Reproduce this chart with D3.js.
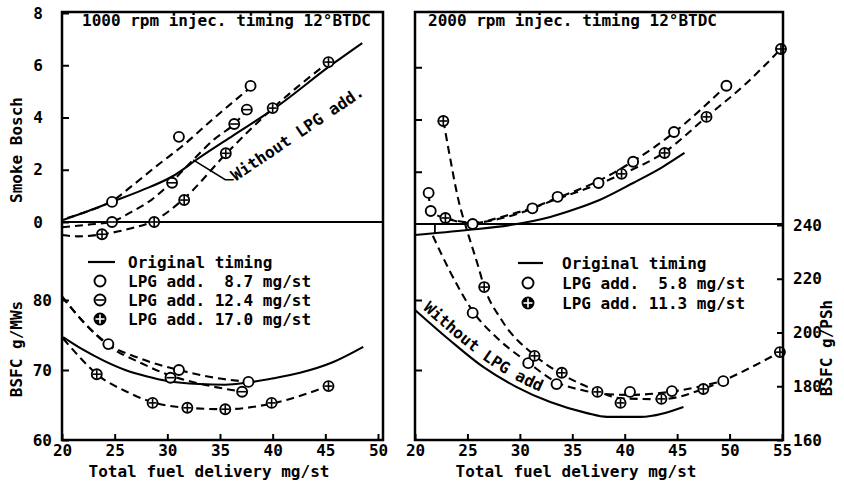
<!DOCTYPE html>
<html>
<head>
<meta charset="utf-8">
<script src="https://cdn.jsdelivr.net/npm/d3@7"></script>
<style>
  body { margin: 0; background: #fff; }
  svg { display: block; font-family: "DejaVu Sans Mono", "Liberation Mono", monospace; font-weight: bold; }
  text { white-space: pre; }
</style>
</head>
<body>
<svg id="chart" width="844" height="487"></svg>
<script>
// ---- tick values ----
const xTicksLeft = [20, 25, 30, 35, 40, 45, 50];
const xTicksRight = [20, 25, 30, 35, 40, 45, 50, 55];
const smokeTicks = [0, 2, 4, 6, 8];
const bsfcTicksLeft = [60, 70, 80];
const bsfcTicksRight = [160, 180, 200, 220, 240];

// ---- 1000 rpm, smoke (Bosch) ----
const smoke1000Orig = [[20.1,0.08],[22.5,0.42],[24.75,0.77],[27.5,1.2],[30.5,1.75],[33,2.45],[36.2,3.3],[40,4.3],[45.7,6.05],[48.5,6.85]];
const smoke1000Lpg87Fit = [[20.5,0.15],[22.7,0.45],[24.75,0.8],[26.7,1.4],[29,2.15],[31.4,2.9],[34.5,4.0],[37.9,5.15]];
const smoke1000Lpg87Pts = [[24.75,0.77],[31.1,3.26],[37.9,5.21]];
const smoke1000Lpg124Fit = [[20,-0.2],[22.5,-0.1],[24.75,0.02],[26.65,0.4],[28.5,0.85],[30.45,1.55],[32.5,2.4],[34.4,3.15],[36.35,3.75],[37.6,4.3]];
const smoke1000Lpg124Pts = [[24.75,0.0],[30.45,1.5],[36.35,3.75],[37.55,4.3]];
const smoke1000Lpg170Fit = [[20,-0.5],[21.5,-0.55],[23.8,-0.47],[26.5,-0.25],[28.75,0.05],[31.6,0.9],[35.55,2.6],[40,4.35],[45.3,6.12]];
const smoke1000Lpg170Pts = [[23.8,-0.47],[28.75,0.0],[31.6,0.84],[35.55,2.63],[40.0,4.36],[45.3,6.12]];

// ---- 1000 rpm, BSFC g/MWs ----
const bsfc1000Orig = [[20.1,74.7],[22,72.9],[24,71.3],[26,70.0],[28,69.1],[30.1,68.4],[33,68.0],[35.5,67.9],[37.6,68.2],[40,68.8],[42.6,69.6],[45.7,71.1],[48.6,73.3]];
const bsfc1000Lpg87Fit = [[20,80.5],[22.2,76.6],[24.4,73.7],[27.5,71.6],[31.1,70.0],[34.5,68.9],[37.7,68.3]];
const bsfc1000Lpg87Pts = [[24.4,73.7],[31.1,70.0],[37.7,68.3]];
const bsfc1000Lpg124Fit = [[20,80.5],[22.2,76.6],[24.4,73.5],[27.5,71.0],[30.3,69.2],[33.5,67.9],[37.1,66.9]];
const bsfc1000Lpg124Pts = [[30.3,68.9],[37.1,66.9]];
const bsfc1000Lpg170Fit = [[20.1,74.5],[21.7,71.8],[23.3,69.4],[26,67.0],[28.6,65.4],[31.9,64.6],[35.5,64.4],[39.9,65.2],[45.3,67.7]];
const bsfc1000Lpg170Pts = [[23.3,69.4],[28.6,65.3],[31.9,64.6],[35.5,64.4],[39.9,65.3],[45.3,67.7]];

// ---- 2000 rpm, smoke (Bosch) ----
const smoke2000Orig = [[20,-0.42],[25,-0.23],[29.1,-0.04],[32.9,0.27],[35.5,0.6],[37.6,0.92],[40.8,1.57],[43.6,2.18],[45.7,2.72]];
const smoke2000Lpg58Fit = [[21.3,1.19],[21.5,0.5],[23.5,0.15],[25.5,0.03],[28.5,0.3],[31.2,0.62],[33.6,1.0],[37.5,1.65],[40.8,2.4],[44.7,3.5],[49.7,5.3]];
const smoke2000Lpg58Pts = [[21.3,1.19],[21.5,0.5],[25.5,0.0],[31.2,0.6],[33.6,1.04],[37.5,1.57],[40.8,2.38],[44.7,3.52],[49.7,5.29]];
const smoke2000Lpg113Fit = [[22.9,0.23],[25.5,0.05],[29,0.3],[33.5,0.95],[37,1.45],[39.7,1.9],[43.8,2.75],[47.8,4.1],[51.5,5.35],[54.9,6.7]];
const smoke2000Lpg113Pts = [[22.9,0.23],[39.7,1.92],[43.8,2.72],[47.8,4.1],[54.9,6.7]];

// ---- 2000 rpm, BSFC g/PSh ----
const bsfc2000Orig = [[20,208.4],[23.3,197.2],[26.5,187.2],[29.7,179.7],[32.9,174.1],[36.4,170.0],[38.3,168.6],[41.5,168.6],[45.6,172.3]];
const bsfc2000Lpg58Fit = [[21.7,236],[23.3,223],[25.5,208],[28.1,197],[30.8,188.8],[33.5,181.5],[36,178.5],[38.5,177],[40.5,176.8],[44.5,178],[49.4,182]];
const bsfc2000Lpg58Pts = [[25.5,207.3],[30.8,188.6],[33.5,180.8],[40.5,177.9],[44.5,178.2],[49.4,181.9]];
const bsfc2000Lpg113Fit = [[22.7,279],[23.3,266],[24.1,250],[25,237.5],[26,225],[26.6,217],[28.2,205],[31.4,191.5],[34,184.5],[37.4,178.3],[39.6,175.5],[43.5,175.2],[47.5,179],[51,185],[54.8,192.7]];
const bsfc2000Lpg113Pts = [[22.7,278.7],[26.6,216.9],[31.4,191.3],[34.0,185.0],[37.4,177.9],[39.6,173.8],[43.5,175.3],[47.5,179.0],[54.8,192.7]];

// ---- legend labels ----
const legendLeft = [["line", "Original timing"], ["open", "LPG add.  8.7 mg/st"], ["minus", "LPG add. 12.4 mg/st"], ["plusFilled", "LPG add. 17.0 mg/st"]];
const legendRight = [["line", "Original timing"], ["open", "LPG add.  5.8 mg/st"], ["plusFilled", "LPG add. 11.3 mg/st"]];

const svg = d3.select("#chart");
svg.append("rect").attr("width", 844).attr("height", 487).attr("fill", "#fff");

const frameTop = 12, frameBottom = 440;
const FS = 16;

// scales
const xL = d3.scaleLinear([20, 50], [62, 378]);
const xR = d3.scaleLinear([20, 55], [415, 782]);
const smokeL = d3.scaleLinear([0, 8], [222, 13]);
const smokeR = d3.scaleLinear([0, 8], [224, 15]);
const bsfcL = d3.scaleLinear([60, 80], [440, 300]);
const bsfcR = d3.scaleLinear([160, 240], [440, 225]);

function symbol(g, type, cx, cy, r) {
  const s = g.append("g").attr("transform", `translate(${cx},${cy})`);
  const filled = type === "plusFilled";
  s.append("circle").attr("r", r)
    .attr("fill", filled ? "#000" : "#fff")
    .attr("stroke", "#000").attr("stroke-width", 1.9);
  const c = filled ? "#fff" : "#000";
  if (type === "minus" || type === "plus" || type === "plusFilled") {
    s.append("line").attr("x1", -r + 1).attr("x2", r - 1).attr("stroke", c).attr("stroke-width", 1.6);
  }
  if (type === "plus" || type === "plusFilled") {
    s.append("line").attr("y1", -r + 1).attr("y2", r - 1).attr("stroke", c).attr("stroke-width", 1.6);
  }
}

function curve(g, xs, ys, data, dashed) {
  const line = d3.line().x(d => xs(d[0])).y(d => ys(d[1])).curve(d3.curveMonotoneX);
  g.append("path").attr("d", line(data))
    .attr("fill", "none").attr("stroke", "#000").attr("stroke-width", 2.1)
    .attr("stroke-dasharray", dashed ? "8,5" : null);
}

function points(g, xs, ys, data, type) {
  data.forEach(d => symbol(g, type, xs(d[0]), ys(d[1]), 5));
}

function styleAxis(g) {
  g.select(".domain").remove();
  g.attr("font-family", null).attr("font-size", FS);
  g.selectAll(".tick line").attr("stroke-width", 2);
}

// ================= LEFT PANEL (1000 rpm) =================
const gl = svg.append("g");

// divider at smoke 0
gl.append("line").attr("x1", 62).attr("x2", 383).attr("y1", smokeL(0)).attr("y2", smokeL(0))
  .attr("stroke", "#000").attr("stroke-width", 2);

curve(gl, xL, smokeL, smoke1000Orig, false);
curve(gl, xL, smokeL, smoke1000Lpg87Fit, true);
curve(gl, xL, smokeL, smoke1000Lpg124Fit, true);
curve(gl, xL, smokeL, smoke1000Lpg170Fit, true);
curve(gl, xL, bsfcL, bsfc1000Orig, false);
curve(gl, xL, bsfcL, bsfc1000Lpg87Fit, true);
curve(gl, xL, bsfcL, bsfc1000Lpg124Fit, true);
curve(gl, xL, bsfcL, bsfc1000Lpg170Fit, true);

points(gl, xL, smokeL, smoke1000Lpg87Pts, "open");
points(gl, xL, smokeL, smoke1000Lpg124Pts, "minus");
points(gl, xL, smokeL, smoke1000Lpg170Pts, "plus");
points(gl, xL, bsfcL, bsfc1000Lpg87Pts, "open");
points(gl, xL, bsfcL, bsfc1000Lpg124Pts, "minus");
points(gl, xL, bsfcL, bsfc1000Lpg170Pts, "plus");

// leader + label "Without LPG add."
const leader = [[32.45, 2.38], [35.5, 1.62], [36.3, 1.62]];
gl.append("path")
  .attr("d", d3.line().x(d => xL(d[0])).y(d => smokeL(d[1]))(leader))
  .attr("fill", "none").attr("stroke", "#000").attr("stroke-width", 1.6);
gl.append("text")
  .attr("transform", `translate(${xL(36.5)},${smokeL(1.55)}) rotate(-34)`)
  .attr("font-size", FS).attr("textLength", 156).attr("lengthAdjust", "spacingAndGlyphs")
  .text("Without LPG add.");

// axes
gl.append("g").attr("transform", "translate(62,0)")
  .call(d3.axisLeft(smokeL).tickValues(smokeTicks).tickSize(-7).tickPadding(19).tickFormat(d3.format("d")))
  .call(styleAxis);
gl.append("g").attr("transform", "translate(62,0)")
  .call(d3.axisLeft(bsfcL).tickValues(bsfcTicksLeft).tickSize(-7).tickPadding(10).tickFormat(d3.format("d")))
  .call(styleAxis);
gl.append("g").attr("transform", `translate(0,${frameBottom})`)
  .call(d3.axisBottom(xL).tickValues(xTicksLeft).tickSize(-6).tickPadding(5).tickFormat(d3.format("d")))
  .call(styleAxis);

gl.append("rect").attr("x", 62).attr("y", frameTop).attr("width", 383 - 62).attr("height", frameBottom - frameTop)
  .attr("fill", "none").attr("stroke", "#000").attr("stroke-width", 2.5);

gl.append("text").attr("x", 82).attr("y", 26).attr("font-size", FS).text("1000 rpm injec. timing 12°BTDC");

// legend
legendLeft.forEach((row, i) => {
  const cy = 262 + i * 19;
  if (row[0] === "line") {
    gl.append("line").attr("x1", 88).attr("x2", 115).attr("y1", cy).attr("y2", cy)
      .attr("stroke", "#000").attr("stroke-width", 2.2);
  } else {
    symbol(gl, row[0], 100, cy, 5.5);
  }
  gl.append("text").attr("x", 128).attr("y", cy).attr("dy", "0.36em").attr("font-size", FS).text(row[1]);
});

// axis titles
gl.append("text").attr("transform", "translate(22,150) rotate(-90)").attr("text-anchor", "middle")
  .attr("font-size", FS).text("Smoke Bosch");
gl.append("text").attr("transform", "translate(22,349) rotate(-90)").attr("text-anchor", "middle")
  .attr("font-size", FS).text("BSFC g/MWs");
gl.append("text").attr("x", 209).attr("y", 477).attr("text-anchor", "middle")
  .attr("font-size", FS).text("Total fuel delivery mg/st");

// ================= RIGHT PANEL (2000 rpm) =================
const gr = svg.append("g");

gr.append("line").attr("x1", 415).attr("x2", 783).attr("y1", smokeR(0)).attr("y2", smokeR(0))
  .attr("stroke", "#000").attr("stroke-width", 2);

curve(gr, xR, smokeR, smoke2000Orig, false);
curve(gr, xR, smokeR, smoke2000Lpg58Fit, true);
curve(gr, xR, smokeR, smoke2000Lpg113Fit, true);
curve(gr, xR, bsfcR, bsfc2000Orig, false);
curve(gr, xR, bsfcR, bsfc2000Lpg58Fit, true);
curve(gr, xR, bsfcR, bsfc2000Lpg113Fit, true);

// small bracket near the start of the original smoke curve
const bracket = [[21.9, 0], [21.9, -0.36]];
gr.append("path")
  .attr("d", d3.line().x(d => xR(d[0])).y(d => smokeR(d[1]))(bracket))
  .attr("fill", "none").attr("stroke", "#000").attr("stroke-width", 1.8);

points(gr, xR, smokeR, smoke2000Lpg58Pts, "open");
points(gr, xR, smokeR, smoke2000Lpg113Pts, "plus");
points(gr, xR, bsfcR, bsfc2000Lpg58Pts, "open");
points(gr, xR, bsfcR, bsfc2000Lpg113Pts, "plus");

// "Without LPG add" following the solid BSFC curve
const labelPath = d3.line().x(d => xR(d[0]) + 3).y(d => bsfcR(d[1]) - 5).curve(d3.curveMonotoneX);
gr.append("path").attr("id", "noLpgPath").attr("d", labelPath(bsfc2000Orig)).attr("fill", "none");
gr.append("text").attr("font-size", FS)
  .append("textPath").attr("href", "#noLpgPath").attr("startOffset", 6)
  .text("Without LPG add");

// axes
gr.append("g").attr("transform", "translate(415,0)")
  .call(d3.axisLeft(smokeR).tickValues([2, 4, 6]).tickSize(-7).tickFormat(""))
  .call(styleAxis);
gr.append("g").attr("transform", "translate(415,0)")
  .call(d3.axisLeft(bsfcL).tickValues([70, 80]).tickSize(-7).tickFormat(""))
  .call(styleAxis);
gr.append("g").attr("transform", "translate(783,0)")
  .call(d3.axisRight(bsfcR).tickValues(bsfcTicksRight).tickSize(-6).tickPadding(10).tickFormat(d3.format("d")))
  .call(styleAxis);
gr.append("g").attr("transform", `translate(0,${frameBottom})`)
  .call(d3.axisBottom(xR).tickValues(xTicksRight).tickSize(-6).tickPadding(5).tickFormat(d3.format("d")))
  .call(styleAxis);

gr.append("rect").attr("x", 415).attr("y", frameTop).attr("width", 783 - 415).attr("height", frameBottom - frameTop)
  .attr("fill", "none").attr("stroke", "#000").attr("stroke-width", 2.5);

gr.append("text").attr("x", 428).attr("y", 26).attr("font-size", FS).text("2000 rpm injec. timing 12°BTDC");

legendRight.forEach((row, i) => {
  const cy = 263 + i * 20;
  if (row[0] === "line") {
    gr.append("line").attr("x1", 518).attr("x2", 543).attr("y1", cy).attr("y2", cy)
      .attr("stroke", "#000").attr("stroke-width", 2.2);
  } else {
    symbol(gr, row[0], 528, cy, 5.5);
  }
  gr.append("text").attr("x", 562).attr("y", cy).attr("dy", "0.36em").attr("font-size", FS).text(row[1]);
});

gr.append("text").attr("transform", "translate(832,348) rotate(-90)").attr("text-anchor", "middle")
  .attr("font-size", FS).text("BSFC g/PSh");
gr.append("text").attr("x", 576).attr("y", 477).attr("text-anchor", "middle")
  .attr("font-size", FS).text("Total fuel delivery mg/st");
</script>
</body>
</html>
